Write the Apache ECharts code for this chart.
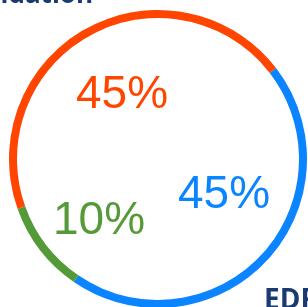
<!DOCTYPE html>
<html>
<head>
<meta charset="utf-8">
<script src="https://cdn.jsdelivr.net/npm/echarts@6/dist/echarts.min.js"></script>
<style>html,body{margin:0;padding:0;background:#fff}#c{width:308px;height:307px}</style>
</head>
<body>
<div id="c"></div>
<script>
var categories = ['Blue', 'Green', 'Orange'];
var values = [45, 10, 45];
var labels = ['45%', '10%', '45%'];
var colors = ['#0A84FF', '#559A38', '#FF4500'];
var labelPos = [[224, 195], [99, 221], [122, 95]];

var chart = echarts.init(document.getElementById('c'), null, {renderer: 'canvas'});
chart.setOption({
  animation: false,
  graphic: [
    {type: 'text', x: 93, y: 9, style: {text: 'Foundation', fontSize: 26, fontWeight: 'bold', fontFamily: '"Open Sans", sans-serif', fill: '#1B3A72', align: 'right', verticalAlign: 'bottom'}},
    {type: 'text', x: 264, y: 287, style: {text: 'EDF', fontSize: 28, fontWeight: 'bold', fontFamily: '"Open Sans", sans-serif', fill: '#1B3A72', align: 'left', verticalAlign: 'top'}}
  ],
  series: [{
    type: 'pie',
    center: [158, 159],
    radius: [141, 149],
    startAngle: 37.6,
    clockwise: true,
    silent: true,
    avoidLabelOverlap: false,
    itemStyle: {borderWidth: 0},
    label: {
      show: true,
      position: 'inside',
      formatter: function (p) { return labels[p.dataIndex]; },
      fontFamily: '"Liberation Sans", Arial, sans-serif',
      fontSize: 46,
      fontWeight: 'normal'
    },
    labelLine: {show: false},
    labelLayout: function (p) {
      return {x: labelPos[p.dataIndex][0], y: labelPos[p.dataIndex][1], align: 'center', verticalAlign: 'middle'};
    },
    data: categories.map(function (c, i) {
      return {name: c, value: values[i], itemStyle: {color: colors[i]}, label: {color: colors[i]}};
    })
  }]
});
</script>
</body>
</html>
